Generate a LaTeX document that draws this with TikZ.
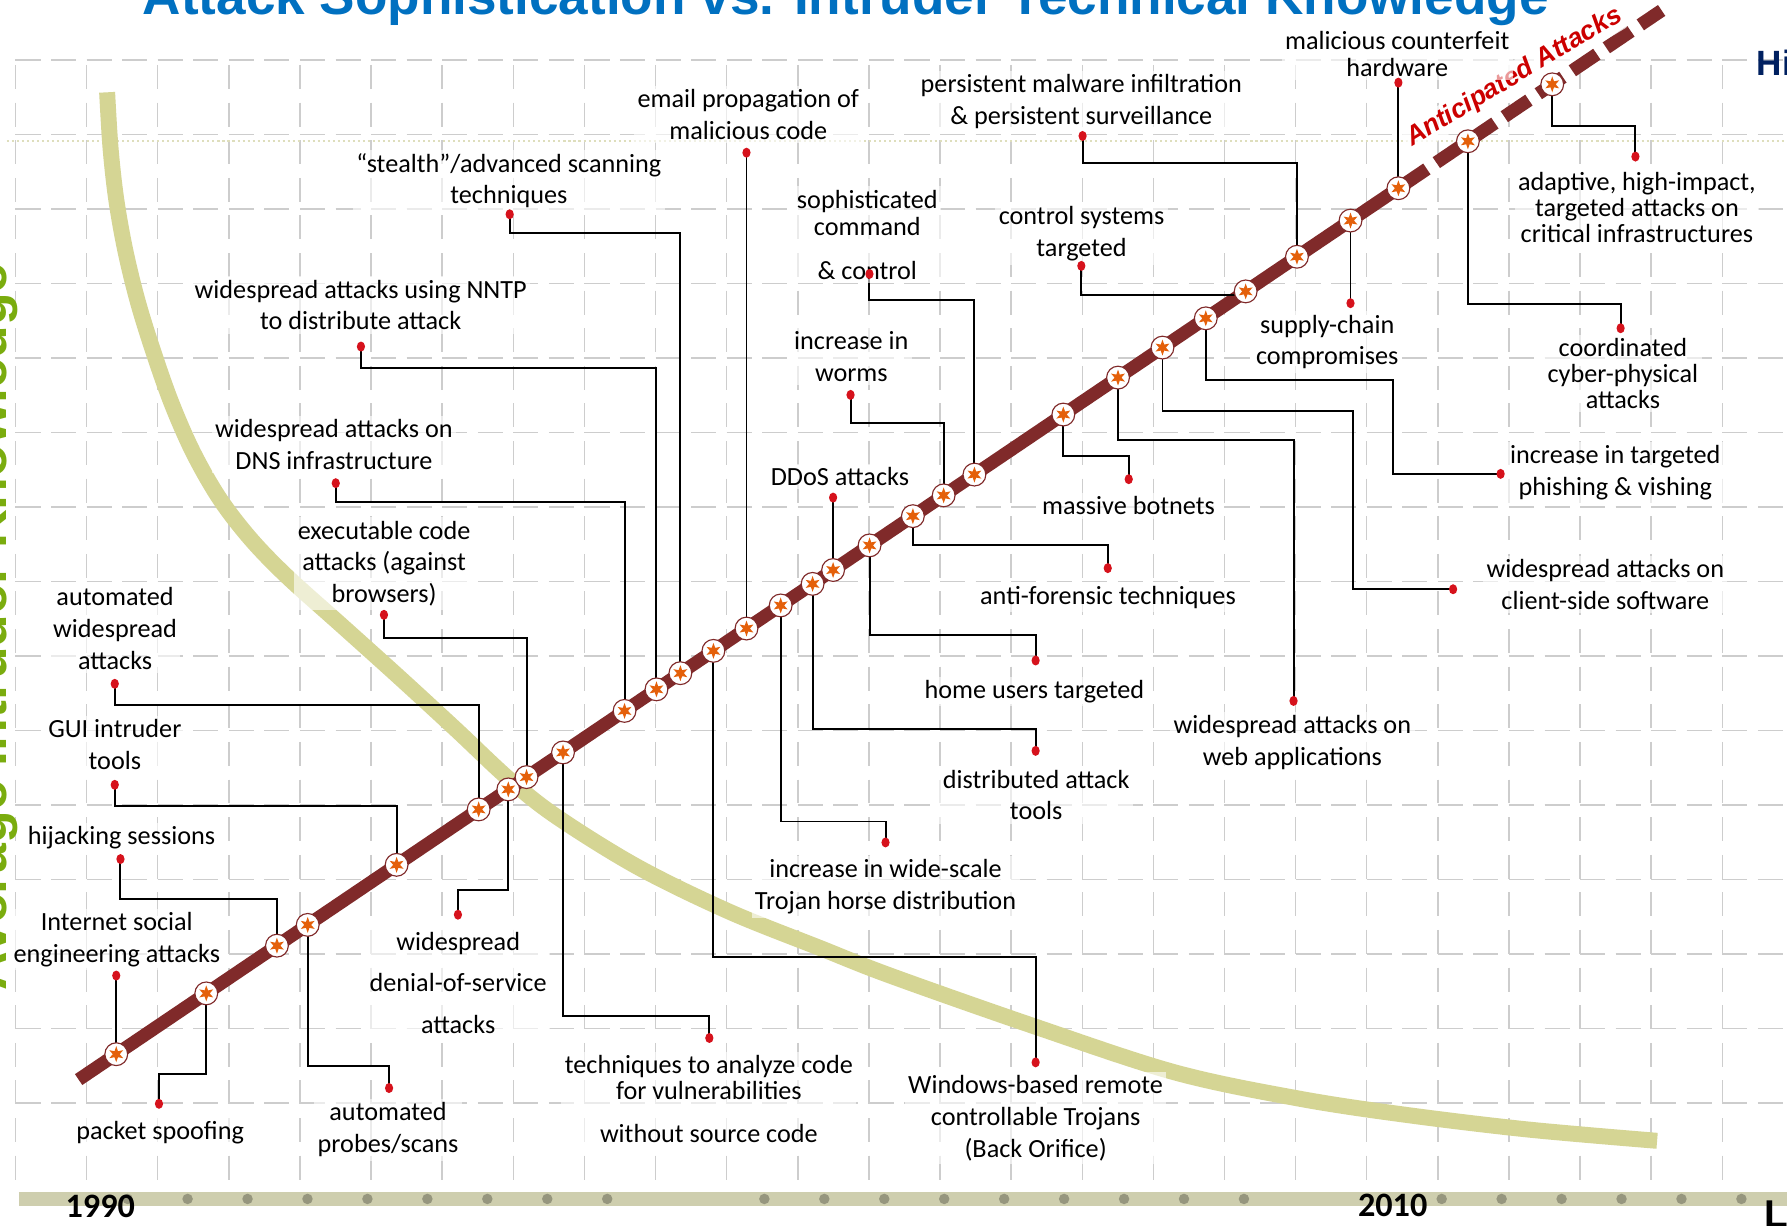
\documentclass[tikz,border=0pt]{standalone}
\usepackage{fontspec}
\setmainfont{Carlito}
\newfontfamily\arialfont{Liberation Sans}
\usetikzlibrary{shapes.geometric}
\definecolor{barred}{RGB}{128,42,42}
\definecolor{starorange}{RGB}{228,96,10}
\definecolor{dotred}{RGB}{214,18,28}
\definecolor{gridgray}{RGB}{205,205,205}
\definecolor{dotbeige}{RGB}{222,222,188}
\definecolor{curvegreen}{RGB}{213,213,148}
\definecolor{axisbar}{RGB}{206,206,174}
\definecolor{axisdot}{RGB}{150,150,126}
\definecolor{titleblue}{RGB}{0,112,192}
\definecolor{navyblue}{RGB}{0,32,96}
\definecolor{knowgreen}{RGB}{122,172,14}
\definecolor{antired}{RGB}{204,0,0}
\pgfdeclarelayer{bglayer}
\pgfdeclarelayer{midlayer}
\pgfsetlayers{bglayer,midlayer,main}
\newcommand{\putstar}[2]{\node[starnode] (#1) at (#2,{925-0.6754*(#2-102)}) {};}
\newcommand{\connelbow}[3]{\draw[conn] (#1.center) |- (#2.center |- 0,#3) -- (#2.center);}
\newcommand{\connstraight}[2]{\draw[conn] (#1.center) -- (#2.center);}
\begin{document}
\begin{tikzpicture}[x=0.5pt,y=-0.5pt,
  lbl/.style={font=\fontsize{11.5}{14}\selectfont, align=center, anchor=base, inner sep=1.5pt, fill=white, fill opacity=0.6, text opacity=1},
  conn/.style={line width=0.85pt, black},
  reddot/.style={ellipse, fill=dotred, minimum width=3.6pt, minimum height=4.4pt, inner sep=0pt},
  starnode/.style={circle, fill=white, draw=barred, line width=0.5pt, minimum size=10pt, inner sep=0pt,
    path picture={\node[star, star points=6, star point ratio=2.3, fill=starorange, draw=none, inner sep=0pt, minimum size=7pt] at (path picture bounding box.center) {};}},
  hgrid/.style={gridgray, line width=0.7pt, dash pattern=on 11pt off 4.6pt},
  vgrid/.style={gridgray, line width=0.65pt, dash pattern=on 10.5pt off 6pt},
  antitext/.style={font=\arialfont\bfseries\itshape\fontsize{11.6}{14}\selectfont, rotate=31, anchor=base west, inner xsep=1pt, inner ysep=1.2pt, fill=white, fill opacity=0.75, text opacity=1, rounded corners=2pt},
]
\useasboundingbox (0,0) rectangle (1568,1075);
\begin{pgfonlayer}{bglayer}
  \fill[white] (0,0) rectangle (1568,1075);
  \foreach \k in {0,...,14} \draw[hgrid] (13.6,{52.6+65.36*\k}) -- (1568,{52.6+65.36*\k});
  \foreach \k in {0,...,24} \draw[vgrid] ({13.6+62.4*\k},57) -- ({13.6+62.4*\k},1035);
  \draw[dotbeige, line width=0.9pt, dash pattern=on 0.9pt off 1.3pt] (6,124) -- (1568,124);
  \draw[curvegreen, line width=7pt] plot[smooth, tension=0.55] coordinates {(94,81) (97,130) (102,175) (110,220) (121,265) (135,310) (151,355) (170,398) (193,438) (220,473) (252,506) (300,549) (350,594) (400,640) (447,684) (489,717) (560,761) (640,800) (720,832) (781,856) (906,900) (1031,941) (1140,964) (1232,978) (1340,991) (1454,1001)};
  \draw[barred, line width=5.75pt] (69,{925-0.6754*(69-102)}) -- (1252,{925-0.6754*(1252-102)});
  \draw[barred, line width=5.75pt, dash pattern=on 13pt off 5pt, dash phase=13pt] (1252,{925-0.6754*(1252-102)}) -- (1458,{925-0.6754*(1458-102)});
  \draw[axisbar, line width=6pt] (16.6,1052) -- (1568,1052);
  \foreach \k in {0,...,8} \fill[axisdot] ({112+52.6*\k},1052) circle (2.3pt);
  \foreach \k in {0,...,8} \fill[axisdot] ({670.7+52.6*\k},1052) circle (2.3pt);
  \foreach \k in {0,...,5} \fill[axisdot] ({1265+52.6*\k},1052) circle (2.3pt);
\end{pgfonlayer}

% titles and axis texts
\node[font=\arialfont\bfseries\fontsize{23.3}{28}\selectfont, text=titleblue, anchor=base west, inner sep=0pt] (title) at (125,13) {Attack Sophistication vs. Intruder Technical Knowledge};
\node[font=\arialfont\bfseries\fontsize{23.5}{28}\selectfont, text=knowgreen, rotate=90, anchor=base, inner sep=0pt] (ylab) at (6,550) {Average Intruder Knowledge};
\node[font=\arialfont\bfseries\fontsize{15.4}{18}\selectfont, text=navyblue, anchor=base west, inner sep=0pt] (hilab) at (1541,66) {Hi};
\node[font=\arialfont\bfseries\fontsize{17}{20}\selectfont, anchor=base west, inner sep=0pt] (lowlab) at (1548,1077) {L};
\node[font=\bfseries\fontsize{15}{18}\selectfont, anchor=base, inner sep=0pt] (y1990) at (88,1068) {1990};
\node[font=\bfseries\fontsize{15}{18}\selectfont, anchor=base, inner sep=0pt] (y2010) at (1222,1067.5) {2010};

% anticipated attacks (white glow box)
\node[antitext, text=antired] (antic) at (1237,130) {Anticipated Attacks};

% labels (anchor = baseline of last line)
\node[lbl] (l1) at (102.5,844.5) {Internet social\\engineering attacks};
\node[lbl] (l2) at (140.5,1000) {packet spoofing};
\node[lbl] (l3) at (106.6,741) {hijacking sessions};
\node[lbl] (l4) at (340.5,1011.6) {automated\\probes/scans};
\node[lbl] (l5) at (100.8,675.4) {GUI intruder\\tools};
\node[lbl] (l6) at (101,587.7) {automated\\widespread\\attacks};
\node[lbl] (l7) at (402,906.4) {widespread\\[4pt]denial-of-service\\[4pt]attacks};
\node[lbl] (l8) at (337,529) {executable code\\attacks (against\\browsers)};
\node[lbl] (l9) at (622,1002.4) {techniques to analyze code\\[-2.6pt]for vulnerabilities\\[5pt]without source code};
\node[lbl] (l10) at (293,412.3) {widespread attacks on\\DNS infrastructure};
\node[lbl] (l11) at (316.5,289.5) {widespread attacks using NNTP\\to distribute attack};
\node[lbl] (l12) at (446.5,179) {“stealth”/advanced scanning\\techniques};
\node[lbl] (l13) at (908.7,1015.2) {Windows-based remote\\controllable Trojans\\(Back Orifice)};
\node[lbl] (l14) at (656.6,122.2) {email propagation of\\malicious code};
\node[lbl] (l15) at (777,798.2) {increase in wide-scale\\Trojan horse distribution};
\node[lbl] (l16) at (909.2,719.5) {distributed attack\\tools};
\node[lbl] (l17) at (737,426.3) {DDoS attacks};
\node[lbl] (l18) at (907.6,612.6) {home users targeted};
\node[lbl] (l19) at (972.2,530.7) {anti-forensic techniques};
\node[lbl] (l20) at (747,335) {increase in\\worms};
\node[lbl] (l21) at (761,245) {sophisticated\\[-2pt]command\\[5.2pt]\& control};
\node[lbl] (l22) at (990.2,451.8) {massive botnets};
\node[lbl] (l23) at (1134,672) {widespread attacks on\\web applications};
\node[lbl] (l24) at (1408.6,535) {widespread attacks on\\client-side software};
\node[lbl] (l25) at (1417.3,435) {increase in targeted\\phishing \& vishing};
\node[lbl] (l26) at (949,225.2) {control systems\\targeted};
\node[lbl] (l27) at (948.8,109.6) {persistent malware infiltration\\\& persistent surveillance};
\node[lbl] (l28) at (1164.6,320.2) {supply-chain\\compromises};
\node[lbl] (l29) at (1226,66.7) {malicious counterfeit\\[-2.5pt]hardware};
\node[lbl] (l30) at (1424,358.2) {coordinated\\[-2.5pt]cyber-physical\\[-2.8pt]attacks};
\node[lbl] (l31) at (1436.3,212.9) {adaptive, high-impact,\\[-2.5pt]targeted attacks on\\[-2.5pt]critical infrastructures};

% stars on the bar
\putstar{s1}{102}
\putstar{s2}{181}
\putstar{s3}{243}
\putstar{s4}{270}
\putstar{s5}{348}
\putstar{s6}{420}
\putstar{s7}{446}
\putstar{s8}{462}
\putstar{s9}{494}
\putstar{s10}{548}
\putstar{s11}{576}
\putstar{s12}{597}
\putstar{s13}{626}
\putstar{s14}{655}
\putstar{s15}{685}
\putstar{s16}{713}
\putstar{s17}{731}
\putstar{s18}{763}
\putstar{s19}{801}
\putstar{s20}{828}
\putstar{s21}{855}
\putstar{s22}{933}
\putstar{s23}{981}
\putstar{s24}{1020}
\putstar{s25}{1058}
\putstar{s26}{1093}
\putstar{s27}{1138}
\putstar{s28}{1185}
\putstar{s29}{1227}
\putstar{s30}{1288}
\putstar{s31}{1362}

% red end dots
\node[reddot] (d1) at (102,856) {};
\node[reddot] (d2) at (139.5,968.5) {};
\node[reddot] (d3) at (105.7,753.8) {};
\node[reddot] (d4) at (341.4,954.7) {};
\node[reddot] (d5) at (100.7,688.6) {};
\node[reddot] (d6) at (100.7,600) {};
\node[reddot] (d7) at (401.8,802.6) {};
\node[reddot] (d8) at (336.9,539.5) {};
\node[reddot] (d9) at (622.4,910.8) {};
\node[reddot] (d10) at (294.6,424) {};
\node[reddot] (d11) at (316.7,304.1) {};
\node[reddot] (d12) at (447.2,188) {};
\node[reddot] (d13) at (908.7,932.2) {};
\node[reddot] (d14) at (655,134) {};
\node[reddot] (d15) at (777,739.2) {};
\node[reddot] (d16) at (908.7,658.8) {};
\node[reddot] (d17) at (731,436.6) {};
\node[reddot] (d18) at (908.7,579.5) {};
\node[reddot] (d19) at (972,498.5) {};
\node[reddot] (d20) at (746.3,346.5) {};
\node[reddot] (d21) at (762.9,240.4) {};
\node[reddot] (d22) at (990.4,420.5) {};
\node[reddot] (d23) at (1135,615) {};
\node[reddot] (d24) at (1275,517) {};
\node[reddot] (d25) at (1316.7,415.8) {};
\node[reddot] (d26) at (948.8,233.3) {};
\node[reddot] (d27) at (949.9,119.3) {};
\node[reddot] (d28) at (1185,266) {};
\node[reddot] (d29) at (1227,72.5) {};
\node[reddot] (d30) at (1422,288) {};
\node[reddot] (d31) at (1435,137.4) {};

% connectors
\begin{pgfonlayer}{midlayer}
  \connstraight{s1}{d1}
  \connelbow{s2}{d2}{942.5}
  \connelbow{s3}{d3}{789}
  \connelbow{s4}{d4}{935.7}
  \connelbow{s5}{d5}{707}
  \connelbow{s6}{d6}{619}
  \connelbow{s7}{d7}{781.3}
  \connelbow{s8}{d8}{559.4}
  \connelbow{s9}{d9}{891.8}
  \connelbow{s10}{d10}{440.6}
  \connelbow{s11}{d11}{323.1}
  \connelbow{s12}{d12}{204.1}
  \connelbow{s13}{d13}{840.1}
  \connstraight{s14}{d14}
  \connelbow{s15}{d15}{720.8}
  \connelbow{s16}{d16}{639.8}
  \connstraight{s17}{d17}
  \connelbow{s18}{d18}{557.3}
  \connelbow{s19}{d19}{478}
  \connelbow{s20}{d20}{370.8}
  \connelbow{s21}{d21}{263.2}
  \connelbow{s22}{d22}{400}
  \connelbow{s23}{d23}{386}
  \draw[conn] (s24.center) |- (1187.2,360.3) |- (d24.center);
  \draw[conn] (s25.center) |- (1222.3,333.3) |- (d25.center);
  \draw[conn] (d26.center) |- (s26.center |- 0,258.8);
  \connelbow{s27}{d27}{142.7}
  \connstraight{s28}{d28}
  \connstraight{s29}{d29}
  \connelbow{s30}{d30}{266.7}
  \connelbow{s31}{d31}{110.5}
\end{pgfonlayer}
\end{tikzpicture}
\end{document}
